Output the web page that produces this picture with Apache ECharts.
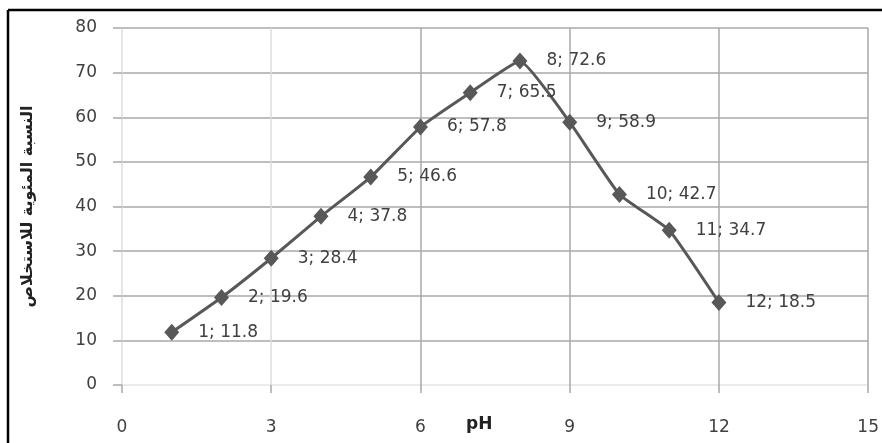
<!DOCTYPE html>
<html><head><meta charset="utf-8">
<script src="https://cdn.jsdelivr.net/npm/echarts@6/dist/echarts.min.js"></script>
<style>html,body{margin:0;padding:0;background:#fff}#c{width:882px;height:443px}</style>
</head><body><div id="c"></div>
<script>
const phValues = [1, 2, 3, 4, 5, 6, 7, 8, 9, 10, 11, 12];
const recovery = [11.8, 19.6, 28.4, 37.8, 46.6, 57.8, 65.5, 72.6, 58.9, 42.7, 34.7, 18.5];
const xTicks = {min: 0, max: 15, interval: 3};
const yTicks = {min: 0, max: 80, interval: 10};
const xName = 'pH';
const yName = 'النسبة المئوية للاستخلاص';

const FONT = '"DejaVu Sans", "Noto Sans", sans-serif';
const chart = echarts.init(document.getElementById('c'));
const pts = phValues.map((x, i) => [x, recovery[i]]);
chart.setOption({
  animation: false,
  backgroundColor: '#fff',
  grid: {left: 122, right: 12, top: 28, bottom: 58},
  xAxis: {
    type: 'value', min: xTicks.min, max: xTicks.max, interval: xTicks.interval,
    axisLine: {show: false},
    axisTick: {show: true, length: 8, lineStyle: {color: '#a8a8a8', width: 1.5}},
    axisLabel: {margin: 34, fontSize: 17, color: '#404040', fontFamily: FONT},
    splitLine: {show: true, lineStyle: {color: ['#dcdcdc', '#dcdcdc', '#a8a8a8', '#a8a8a8', '#a8a8a8', '#a8a8a8'], width: 1.5}}
  },
  yAxis: {
    type: 'value', min: yTicks.min, max: yTicks.max, interval: yTicks.interval,
    name: yName, nameLocation: 'middle', nameGap: 86,
    nameTextStyle: {fontSize: 16, fontWeight: 'bold', color: '#222', fontFamily: FONT},
    axisLine: {show: false},
    axisTick: {show: true, length: 9, lineStyle: {color: '#a8a8a8', width: 1.5}},
    axisLabel: {margin: 25, fontSize: 17, color: '#404040', fontFamily: FONT},
    splitLine: {show: true, lineStyle: {color: ['#e4e4e4', '#a8a8a8', '#a8a8a8', '#a8a8a8', '#a8a8a8', '#a8a8a8', '#a8a8a8', '#a8a8a8', '#a8a8a8'], width: 1.5}}
  },
  series: [{
    type: 'line', data: pts, smooth: 0.12,
    symbol: 'diamond', symbolSize: [15, 17],
    lineStyle: {color: '#585858', width: 3},
    itemStyle: {color: '#585858'},
    label: {
      show: true, position: 'right', distance: 19,
      fontSize: 17, color: '#404040', fontFamily: FONT,
      formatter: p => p.value[0] + '; ' + p.value[1]
    },
    z: 5
  }],
  graphic: [
    {type: 'text', left: 466, top: 416, style: {text: xName, fontSize: 17, fontWeight: 'bold', fill: '#222', fontFamily: FONT}},
    {type: 'line', shape: {x1: 8, y1: 10, x2: 882, y2: 10}, style: {stroke: '#000', lineWidth: 2.5}},
    {type: 'line', shape: {x1: 8, y1: 10, x2: 8, y2: 443}, style: {stroke: '#000', lineWidth: 2.5}}
  ]
});
</script></body></html>
